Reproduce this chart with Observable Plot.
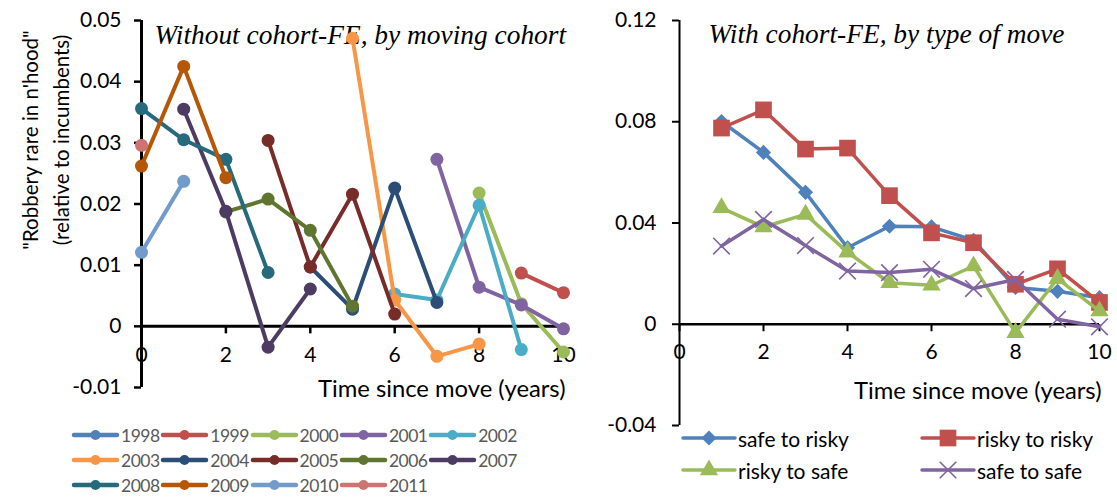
<!DOCTYPE html>
<html><head><meta charset="utf-8">
<script src="https://cdn.jsdelivr.net/npm/d3@7"></script>
<script src="https://cdn.jsdelivr.net/npm/@observablehq/plot@0.6"></script>
<style>
body{margin:0;background:#fff;}
#wrap{position:relative;width:1117px;height:499px;overflow:hidden;font-family:Lato,sans-serif;background:#fff;}
#left,#right{position:absolute;top:0;}
#left{left:0;} #right{left:600px;}
.leg{position:absolute;left:0;top:0;}
.item{position:absolute;display:flex;align-items:center;white-space:nowrap;}
</style></head><body>
<div id="wrap"><div id="left"></div><div id="right"></div><div id="legL" class="leg"></div><div id="legR" class="leg"></div></div>
<script>
// ---------- data ----------
const times = [0,1,2,3,4,5,6,7,8,9,10];
const xTicks = [0,2,4,6,8,10];
const xTickLabels = ["0","2","4","6","8","10"];
const yTicksLeft = [-0.01,0,0.01,0.02,0.03,0.04,0.05];
const yTickLabelsLeft = ["-0.01","0","0.01","0.02","0.03","0.04","0.05"];
const yTicksRight = [-0.04,0,0.04,0.08,0.12];
const yTickLabelsRight = ["-0.04","0","0.04","0.08","0.12"];

const cohorts = ["1998","1999","2000","2001","2002","2003","2004","2005","2006","2007","2008","2009","2010","2011"];
const cohortColors = ["#4F81BD","#C0504D","#9BBB59","#8064A2","#4BACC6","#F79646","#2C4D75","#772C2A","#5F7530","#4D3B62","#276A7C","#B65708","#729ACA","#CD7371"];
// values by time since move 0..10 (null = not observed)
const cohortValues = [
  [null,null,null,null,null,null,null,null,null,null,null],            // 1998
  [null,null,null,null,null,null,null,null,null,0.0087,0.0055],        // 1999
  [null,null,null,null,null,null,null,null,0.0218,0.0037,-0.0042],     // 2000
  [null,null,null,null,null,null,null,0.0273,0.0064,0.0035,-0.0004],   // 2001
  [null,null,null,null,null,null,0.0053,0.0043,0.0198,-0.0038,null],   // 2002
  [null,null,null,null,null,0.0471,0.0043,-0.0049,-0.0029,null,null],  // 2003
  [null,null,null,null,0.0097,0.0028,0.0226,0.0039,null,null,null],    // 2004
  [null,null,null,0.0304,0.0097,0.0216,0.0020,null,null,null,null],    // 2005
  [null,null,0.0187,0.0208,0.0157,0.0033,null,null,null,null,null],    // 2006
  [null,0.0355,0.0188,-0.0034,0.0061,null,null,null,null,null,null],   // 2007
  [0.0356,0.0305,0.0273,0.0088,null,null,null,null,null,null,null],    // 2008
  [0.0262,0.0425,0.0243,null,null,null,null,null,null,null,null],      // 2009
  [0.0121,0.0237,null,null,null,null,null,null,null,null,null],        // 2010
  [0.0296,null,null,null,null,null,null,null,null,null,null]           // 2011
];

const moveTimes = [1,2,3,4,5,6,7,8,9,10];
const moveTypes = ["safe to risky","risky to risky","risky to safe","safe to safe"];
const moveColors = ["#4F81BD","#C0504D","#9BBB59","#8064A2"];
const safeToRisky  = [0.0801,0.0679,0.0521,0.0302,0.0387,0.0385,0.0332,0.0145,0.0130,0.0105];
const riskyToRisky = [0.0775,0.0847,0.0692,0.0696,0.0508,0.0361,0.0322,0.0158,0.0219,0.0086];
const riskyToSafe  = [0.0460,0.0384,0.0434,0.0285,0.0164,0.0154,0.0230,-0.0033,0.0180,0.0052];
const safeToSafe   = [0.0309,0.0414,0.0311,0.0210,0.0204,0.0217,0.0141,0.0177,0.0020,-0.0010];
const moveValues = [safeToRisky, riskyToRisky, riskyToSafe, safeToSafe];

// ---------- helpers ----------
const tickDown = {draw(ctx){ ctx.moveTo(0,0); ctx.lineTo(0,7); }};
const fmtFrom = (ticks, labels) => d => labels[ticks.findIndex(t => Math.abs(t - d) < 1e-9)];
const markerSpec = [
  {symbol:"diamond2", r:6.8, fill:true},
  {symbol:"square", r:9.4, fill:true},
  {symbol:"triangle", r:6.8, fill:true},
  {symbol:"times", r:7.6, fill:false}
];

// ---------- left chart ----------
const leftMarks = [
  Plot.ruleY([0], {x1:0, x2:10, stroke:"black", strokeWidth:3}),
  Plot.ruleX([0], {stroke:"black", strokeWidth:3}),
  Plot.axisY({ticks:yTicksLeft, tickFormat:fmtFrom(yTicksLeft, yTickLabelsLeft), tickSize:7, tickPadding:13, fontSize:21, strokeWidth:2.5, label:null}),
  Plot.dot(xTicks, {x:d=>d, y:0, symbol:tickDown, fill:"none", stroke:"black", strokeWidth:2.5}),
  Plot.text(xTicks, {x:d=>d, y:0, dy:29, text:(d,i)=>xTickLabels[i], fontSize:21}),
  Plot.text(["Time since move (years)"], {frameAnchor:"bottom-right", textAnchor:"end", dx:2, dy:9, fontSize:23.8}),
  Plot.text(["Without cohort-FE, by moving cohort"], {frameAnchor:"top-left", textAnchor:"start", dx:13, dy:4, fontSize:27.4, fontFamily:"Liberation Serif", fontStyle:"italic"}),
  Plot.text(["\"Robbery rare in n'hood\"\n(relative to incumbents)"], {frameAnchor:"left", textAnchor:"middle", rotate:-90, dx:-98, dy:-64, fontSize:20.5, lineHeight:1.5})
];
cohorts.forEach((c, i) => {
  const rows = cohortValues[i].map((v, t) => ({t: times[t], v})).filter(d => d.v != null);
  leftMarks.push(Plot.line(rows, {x:"t", y:"v", stroke:cohortColors[i], strokeWidth:4}));
  leftMarks.push(Plot.dot(rows, {x:"t", y:"v", r:6.5, fill:cohortColors[i], stroke:"none"}));
});
document.getElementById("left").append(Plot.plot({
  width:600, height:400, marginLeft:141, marginRight:37, marginTop:20, marginBottom:13,
  x:{domain:[0,10], axis:null}, y:{domain:[-0.01,0.05], axis:null},
  style:{fontFamily:"Lato", fontSize:"21px", color:"black", background:"transparent", overflow:"visible"},
  marks:leftMarks
}));

// ---------- right chart ----------
const rightMarks = [
  Plot.ruleY([0], {x1:0, x2:10, stroke:"black", strokeWidth:2.5}),
  Plot.ruleX([0], {stroke:"black", strokeWidth:2}),
  Plot.axisY({ticks:yTicksRight, tickFormat:fmtFrom(yTicksRight, yTickLabelsRight), tickSize:7, tickPadding:16, fontSize:21, strokeWidth:2, label:null}),
  Plot.dot(xTicks, {x:d=>d, y:0, symbol:tickDown, fill:"none", stroke:"black", strokeWidth:2}),
  Plot.text(xTicks, {x:d=>d, y:0, dy:28, text:(d,i)=>xTickLabels[i], fontSize:21}),
  Plot.text(["Time since move (years)"], {frameAnchor:"bottom-right", textAnchor:"end", dx:2, dy:-27, fontSize:23.8}),
  Plot.text(["With cohort-FE, by type of move"], {frameAnchor:"top-left", textAnchor:"start", dx:29, dy:3, fontSize:27.4, fontFamily:"Liberation Serif", fontStyle:"italic"})
];
moveTypes.forEach((m, i) => {
  const rows = moveValues[i].map((v, k) => ({t: moveTimes[k], v}));
  const sp = markerSpec[i];
  rightMarks.push(Plot.line(rows, {x:"t", y:"v", stroke:moveColors[i], strokeWidth:3.5}));
  rightMarks.push(Plot.dot(rows, sp.fill
    ? {x:"t", y:"v", symbol:sp.symbol, r:sp.r, fill:moveColors[i], stroke:"none"}
    : {x:"t", y:"v", symbol:sp.symbol, r:sp.r, fill:"none", stroke:moveColors[i], strokeWidth:1.6}));
});
document.getElementById("right").append(Plot.plot({
  width:517, height:430, marginLeft:79, marginRight:18, marginTop:20, marginBottom:5,
  x:{domain:[0,10], axis:null}, y:{domain:[-0.04,0.12], axis:null},
  style:{fontFamily:"Lato", fontSize:"21px", color:"black", background:"transparent", overflow:"visible"},
  marks:rightMarks
}));

// ---------- legends ----------
const legL = d3.select("#legL");
cohorts.forEach((c, i) => {
  const col = i % 5, row = Math.floor(i / 5);
  const it = legL.append("div").attr("class","item")
    .style("left", (73 + col*89.3) + "px").style("top", (435 + row*25 - 12) + "px").style("height","24px");
  const s = it.append("svg").attr("width",47).attr("height",14).style("overflow","visible");
  s.append("line").attr("x1",1).attr("x2",44).attr("y1",7).attr("y2",7).attr("stroke",cohortColors[i]).attr("stroke-width",4.5).attr("stroke-linecap","round");
  s.append("circle").attr("cx",22.5).attr("cy",7).attr("r",5).attr("fill",cohortColors[i]);
  it.append("span").text(c).style("font-size","17.5px").style("color","#595959").style("letter-spacing","-0.5px").style("margin-left","1px");
});
const legR = d3.select("#legR");
moveTypes.forEach((m, i) => {
  const col = i % 2, row = Math.floor(i / 2);
  const it = legR.append("div").attr("class","item")
    .style("left", (682 + col*239) + "px").style("top", (438 + row*32 - 15) + "px").style("height","30px");
  const s = it.append("svg").attr("width",55).attr("height",20).style("overflow","visible");
  s.append("line").attr("x1",1).attr("x2",53).attr("y1",10).attr("y2",10).attr("stroke",moveColors[i]).attr("stroke-width",3.5).attr("stroke-linecap","round");
  const sp = markerSpec[i];
  const symMap = {diamond2:d3.symbolDiamond2, square:d3.symbolSquare, triangle:d3.symbolTriangle, times:d3.symbolTimes};
  const path = d3.symbol(symMap[sp.symbol], sp.r*sp.r*Math.PI)();
  const p = s.append("path").attr("d", path).attr("transform","translate(27,10)");
  if (sp.fill) p.attr("fill", moveColors[i]); else p.attr("fill","none").attr("stroke",moveColors[i]).attr("stroke-width",1.6);
  it.append("span").text(m).style("font-size","21px").style("color","#000").style("margin-left","1px");
});
</script>
</body></html>
